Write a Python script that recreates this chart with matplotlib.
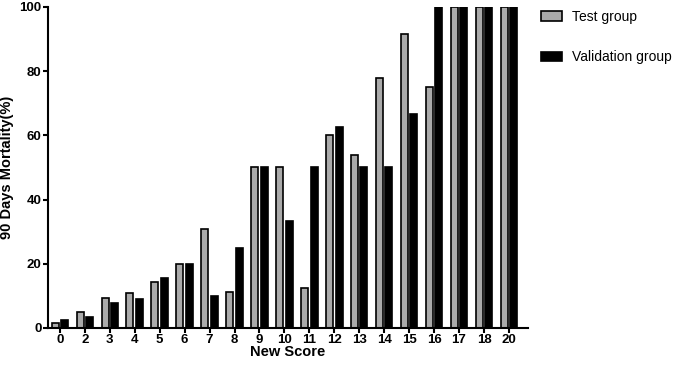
import matplotlib
matplotlib.use("Agg")
from matplotlib import pyplot as plt
from matplotlib.patches import Patch
import numpy as np

plt.rcParams['font.family'] = ['Liberation Sans', 'DejaVu Sans']

scores = ['0', '2', '3', '4', '5', '6', '7', '8', '9', '10', '11', '12',
          '13', '14', '15', '16', '17', '18', '20']
test_group = [1.5, 4.8, 9.2, 10.8, 14.4, 20, 30.9, 11.1, 50, 50, 12.5, 60,
              53.8, 77.8, 91.7, 75, 100, 100, 100]
validation_group = [2.6, 3.5, 7.9, 9.1, 15.6, 20, 10, 25, 50, 33.3, 50, 62.5,
                    50, 50, 66.7, 100, 100, 100, 100]

x = np.arange(len(scores))
w = 0.28
gray = '#aaaaaa'

fig = plt.figure(figsize=(6.75, 3.68), dpi=100)
ax = fig.add_axes([0.071, 0.109, 0.711, 0.872])

ax.bar(x - 0.19, test_group, w, color=gray, edgecolor='black', linewidth=1.2)
ax.bar(x + 0.19, validation_group, w, color='black', edgecolor='black', linewidth=1.2)

ax.set_xlim(-0.48, 18.76)
ax.set_ylim(0, 100)
ax.set_xticks(x)
ax.set_xticklabels(scores)
ax.set_yticks([0, 20, 40, 60, 80, 100])
for s in ['top', 'right']:
    ax.spines[s].set_visible(False)
for s in ['left', 'bottom']:
    ax.spines[s].set_linewidth(1.5)
ax.tick_params(direction='out', width=1.5, length=3.6, labelsize=9.5, pad=1)
for lab in ax.get_xticklabels() + ax.get_yticklabels():
    lab.set_fontweight('bold')

ax.set_xlabel('New Score', fontsize=10.5, fontweight='bold')
ax.set_ylabel('90 Days Mortality(%)', fontsize=10.5, fontweight='bold')
ax.xaxis.set_label_coords(0.5, -0.053)
ax.yaxis.set_label_coords(-0.071, 0.5)

handles = [Patch(facecolor=gray, edgecolor='black', linewidth=1.2),
           Patch(facecolor='black', edgecolor='black', linewidth=1.2)]
fig.legend(handles, ['Test group', 'Validation group'], loc='upper left',
           bbox_to_anchor=(0.801, 0.973), frameon=False, fontsize=10,
           borderpad=0, borderaxespad=0,
           handlelength=1.5, handleheight=0.65, handletextpad=0.72,
           labelspacing=1.9)

plt.savefig("out.png", dpi=100)
